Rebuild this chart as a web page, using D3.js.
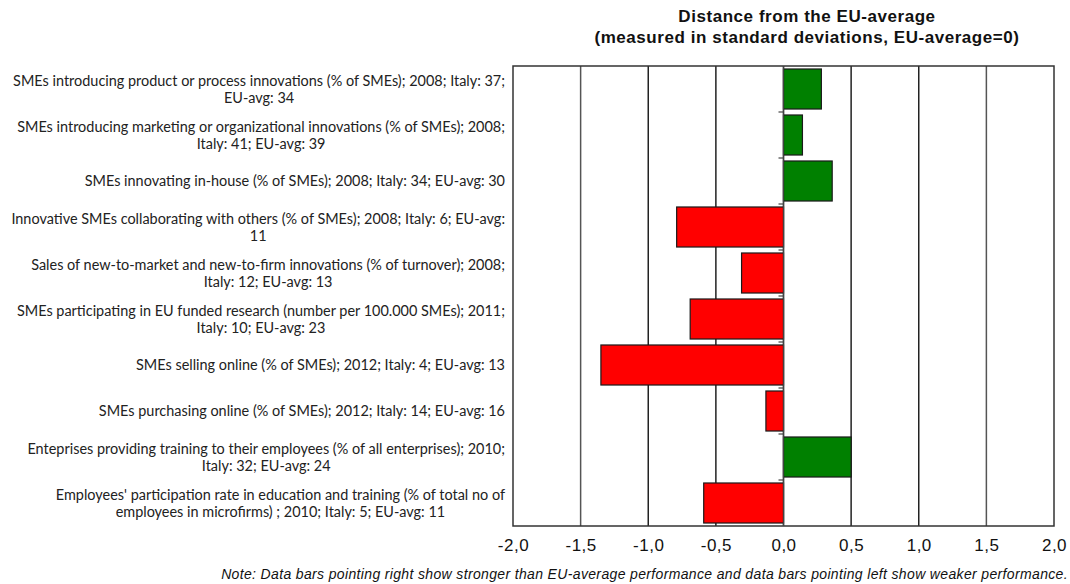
<!DOCTYPE html>
<html>
<head>
<meta charset="utf-8">
<script src="https://cdn.jsdelivr.net/npm/d3@7"></script>
<style>
  body { margin: 0; background: #fff; }
  svg { display: block; }
  .lbl { font-family: Lato, "Open Sans", sans-serif; font-size: 14.45px; fill: #222; }
  .title { font-family: "Liberation Sans", Arial, sans-serif; font-size: 17px; letter-spacing: 0.55px; font-weight: bold; fill: #111; }
  .tick text { font-family: "Liberation Sans", Arial, sans-serif; font-size: 17px; letter-spacing: 0.5px; fill: #111; }
  .note { font-family: "Liberation Sans", Arial, sans-serif; font-size: 14px; letter-spacing: 0.35px; font-style: italic; fill: #111; }
</style>
</head>
<body>
<svg id="chart" width="1070" height="584"></svg>
<script>
// indicator labels (each entry = lines of the wrapped label)
var labels = [
  ["SMEs introducing product or process innovations (% of SMEs); 2008; Italy: 37;", "EU-avg: 34"],
  ["SMEs introducing marketing or organizational innovations (% of SMEs); 2008;", "Italy: 41; EU-avg: 39"],
  ["SMEs innovating in-house (% of SMEs); 2008; Italy: 34; EU-avg: 30"],
  ["Innovative SMEs collaborating with others (% of SMEs); 2008; Italy: 6; EU-avg:", "11"],
  ["Sales of new-to-market and new-to-firm innovations (% of turnover); 2008;", "Italy: 12; EU-avg: 13"],
  ["SMEs participating in EU funded research (number per 100.000 SMEs); 2011;", "Italy: 10; EU-avg: 23"],
  ["SMEs selling online (% of SMEs); 2012; Italy: 4; EU-avg: 13"],
  ["SMEs purchasing online (% of SMEs); 2012; Italy: 14; EU-avg: 16"],
  ["Enteprises providing training to their employees (% of all enterprises); 2010;", "Italy: 32; EU-avg: 24"],
  ["Employees' participation rate in education and training (% of total no of", "employees in microfirms) ; 2010; Italy: 5; EU-avg: 11"]
];
// distance from EU average in standard deviations
var values = [0.28, 0.14, 0.36, -0.79, -0.31, -0.69, -1.35, -0.13, 0.50, -0.59];
var xTicks = [-2, -1.5, -1, -0.5, 0, 0.5, 1, 1.5, 2];

var svg = d3.select("#chart");
var m = {left: 513, right: 1054, top: 66, bottom: 526};

var x = d3.scaleLinear().domain([-2, 2]).range([m.left, m.right]);
var y = d3.scaleBand().domain(d3.range(labels.length)).range([m.top, m.bottom]).paddingInner(0.13).paddingOuter(0.065);

// title
svg.append("text").attr("class", "title").attr("x", 807).attr("y", 22)
  .attr("text-anchor", "middle").text("Distance from the EU-average");
svg.append("text").attr("class", "title").attr("x", 807).attr("y", 43)
  .attr("text-anchor", "middle").text("(measured in standard deviations, EU-average=0)");

// gridlines
svg.append("g").selectAll("line")
  .data(xTicks.slice(1, -1))
  .enter().append("line")
  .attr("x1", function(d){ return x(d) }).attr("x2", function(d){ return x(d) })
  .attr("y1", m.top).attr("y2", m.bottom)
  .attr("stroke", function(d){ return Math.abs(d) == 1.5 ? "#555" : "#222" })
  .attr("stroke-width", 1.5);

// plot frame
svg.append("rect")
  .attr("x", m.left).attr("y", m.top)
  .attr("width", m.right - m.left).attr("height", m.bottom - m.top)
  .attr("fill", "none").attr("stroke", "#333").attr("stroke-width", 1.5);

// bars
svg.append("g").selectAll("rect")
  .data(values)
  .enter().append("rect")
  .attr("x", function(d){ return x(Math.min(0, d)) })
  .attr("width", function(d){ return Math.abs(x(d) - x(0)) })
  .attr("y", function(d, i){ return y(i) })
  .attr("height", y.bandwidth())
  .attr("fill", function(d){ return d >= 0 ? "#008000" : "#ff0000" })
  .attr("stroke", "#1a1a1a").attr("stroke-width", 1.2);

// category axis at zero
svg.append("line")
  .attr("x1", x(0)).attr("x2", x(0)).attr("y1", m.top).attr("y2", m.bottom)
  .attr("stroke", "#444").attr("stroke-width", 1.2);
var step = (m.bottom - m.top) / labels.length;
svg.append("g").selectAll("line")
  .data(d3.range(1, labels.length))
  .enter().append("line")
  .attr("x1", x(0) - 5).attr("x2", x(0))
  .attr("y1", function(d){ return m.top + d * step }).attr("y2", function(d){ return m.top + d * step })
  .attr("stroke", "#444").attr("stroke-width", 1.2);

// x axis labels
var fmt = function(d){ return d3.format(".1f")(d).replace(".", ",").replace("−", "-") };
var xAxis = svg.append("g")
  .attr("transform", "translate(0," + m.bottom + ")")
  .call(d3.axisBottom(x).tickValues(xTicks).tickFormat(fmt).tickSize(0).tickPadding(13));
xAxis.select(".domain").remove();

// wrapped row labels: block right-aligned, lines centred inside block
var lineH = 17;
labels.forEach(function(lines, i){
  var cy = y(i) + y.bandwidth() / 2;
  var g = svg.append("g");
  var texts = lines.map(function(s){
    return g.append("text").attr("class", "lbl").attr("text-anchor", "middle").text(s);
  });
  var w = d3.max(texts, function(t){ return t.node().getComputedTextLength() });
  var cx = 505 - w / 2;
  texts.forEach(function(t, j){
    var yy = cy + (j - (lines.length - 1) / 2) * lineH + 5;
    t.attr("x", cx).attr("y", yy);
  });
});

// note
svg.append("text").attr("class", "note").attr("x", 1068).attr("y", 579)
  .attr("text-anchor", "end")
  .text("Note: Data bars pointing right show stronger than EU-average performance and data bars pointing left show weaker performance.");
</script>
</body>
</html>
